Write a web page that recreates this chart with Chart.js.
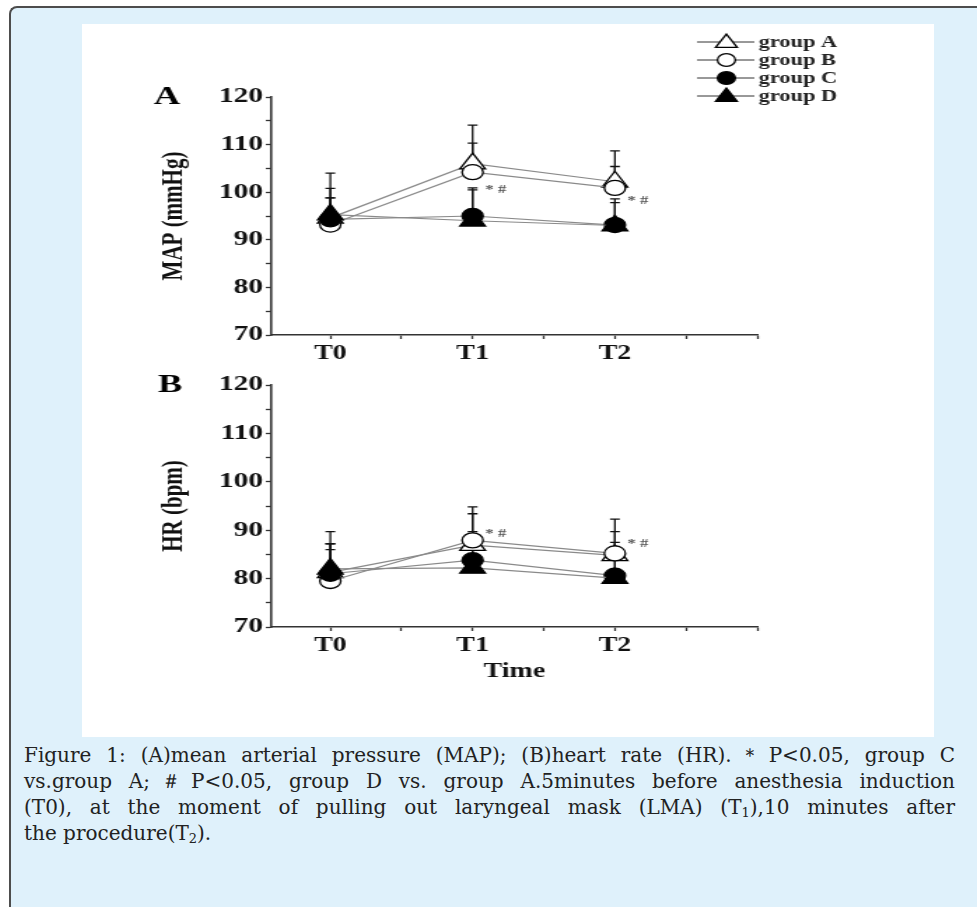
<!DOCTYPE html>
<html>
<head>
<meta charset="utf-8">
<script src="https://cdn.jsdelivr.net/npm/chart.js@4.4.0/dist/chart.umd.min.js"></script>
<style>
  body { margin: 0; width: 977px; height: 907px; overflow: hidden; position: relative; background: #fff; }
  #frame { position: absolute; left: 9px; top: 6px; width: 1000px; height: 1000px; border-left: 2px solid #4d4d4d; border-top: 2px solid #4d4d4d; border-top-left-radius: 8px; background: #dff1fb; }
  #panel { position: absolute; left: 82px; top: 24px; width: 852px; height: 713px; background: #fff; }
  .wrap { position: absolute; left: 150.6px; width: 500px; transform: scaleX(1.4); transform-origin: 0 0; }
  #wrapA { top: 30px; height: 335px; }
  #wrapB { top: 365px; height: 325px; }
  #caption { position: absolute; left: 24px; top: 742px; width: 931px; font-family: "DejaVu Serif", serif; font-size: 20px; line-height: 26px; color: #222; }
  #caption .j { text-align: justify; text-align-last: justify; text-justify: inter-word; white-space: nowrap; }
  #caption sub { font-size: 13px; vertical-align: -3px; line-height: 0; }
</style>
</head>
<body>
<div id="frame"></div>
<div id="panel"></div>
<div class="wrap" id="wrapA"><canvas id="chartA"></canvas></div>
<div class="wrap" id="wrapB"><canvas id="chartB"></canvas></div>
<div id="caption">
  <div class="j">Figure 1: (A)mean arterial pressure (MAP); (B)heart rate (HR).＊P&lt;0.05, group C</div>
  <div class="j">vs.group A;＃P&lt;0.05, group D vs. group A.5minutes before anesthesia induction</div>
  <div class="j">(T0), at the moment of pulling out laryngeal mask (LMA) (T<sub>1</sub>),10 minutes after</div>
  <div>the procedure(T<sub>2</sub>).</div>
</div>
<script>
// time points and groups
const timeLabels = ['T0', 'T1', 'T2'];
const groupNames = ['group A', 'group B', 'group C', 'group D'];

// MAP (mmHg), means and SD (upper bar only)
const mapA = [94.6, 106.0, 102.2];
const mapB = [93.2, 104.2, 100.9];
const mapC = [94.3, 95.0, 93.1];
const mapD = [95.3, 94.0, 93.0];
const mapSdA = [9.4, 8.1, 6.5];
const mapSdB = [7.6, 6.1, 4.5];
const mapSdC = [4.5, 5.9, 5.5];
const mapSdD = [3.5, 6.5, 4.8];

// HR (bpm)
const hrA = [81.3, 86.9, 84.8];
const hrB = [79.5, 87.9, 85.2];
const hrC = [81.0, 83.8, 80.6];
const hrD = [82.0, 82.2, 80.1];
const hrSdA = [8.4, 7.9, 7.5];
const hrSdB = [7.7, 5.5, 4.5];
const hrSdC = [6.2, 5.9, 6.9];
const hrSdD = [4.0, 6.4, 6.4];

// y ticks and significance marks (time index)
const yTicks = [70, 80, 90, 100, 110, 120];
const sigIndex = [1, 2];

const fontFam = '"Liberation Serif", "Times New Roman", serif';
Chart.defaults.font.family = fontFam;
Chart.defaults.color = '#111';

const styles = [
  { pointStyle: 'triangle', radius: 10.5, fill: '#fff' },
  { pointStyle: 'circle', radius: 7.5, fill: '#fff' },
  { pointStyle: 'circle', radius: 7.5, fill: '#000' },
  { pointStyle: 'triangle', radius: 10.5, fill: '#000' }
];

function makeSets(means, sds) {
  return means.map((vals, g) => ({
    label: groupNames[g],
    data: vals.map((v, i) => ({ x: i, y: v })),
    sd: sds[g],
    borderColor: '#8a8a8a',
    borderWidth: 1.2,
    pointStyle: styles[g].pointStyle,
    pointRadius: styles[g].radius,
    pointBackgroundColor: styles[g].fill,
    pointBorderColor: '#000',
    pointBorderWidth: 1.3,
    order: 3 - g
  }));
}

function drawMarker(ctx, st, x, y) {
  ctx.beginPath();
  if (st.pointStyle === 'circle') {
    ctx.arc(x, y, st.radius, 0, Math.PI * 2);
  } else {
    let rad = 0;
    ctx.moveTo(x + Math.sin(rad) * st.radius, y - Math.cos(rad) * st.radius);
    rad += Math.PI * 2 / 3;
    ctx.lineTo(x + Math.sin(rad) * st.radius, y - Math.cos(rad) * st.radius);
    rad += Math.PI * 2 / 3;
    ctx.lineTo(x + Math.sin(rad) * st.radius, y - Math.cos(rad) * st.radius);
    ctx.closePath();
  }
  ctx.fillStyle = st.fill;
  ctx.fill();
  ctx.lineWidth = 1.3;
  ctx.strokeStyle = '#000';
  ctx.stroke();
}

// error bars + "* #" marks
const errorBars = {
  id: 'errorBars',
  beforeDatasetsDraw(chart) {
    const { ctx, scales: { x, y } } = chart;
    ctx.save();
    ctx.strokeStyle = '#111';
    ctx.lineWidth = 1.3;
    chart.data.datasets.forEach(ds => {
      ds.data.forEach((pt, i) => {
        const px = x.getPixelForValue(pt.x);
        const py = y.getPixelForValue(pt.y);
        const top = y.getPixelForValue(pt.y + ds.sd[i]);
        ctx.beginPath();
        ctx.moveTo(px, py);
        ctx.lineTo(px, top);
        ctx.moveTo(px - 3.5, top);
        ctx.lineTo(px + 3.5, top);
        ctx.stroke();
      });
    });
    // significance marks beside group C bar top
    const dsC = chart.data.datasets[2];
    ctx.fillStyle = '#555';
    ctx.font = 'bold 12px ' + fontFam;
    ctx.textAlign = 'left';
    ctx.textBaseline = 'middle';
    sigIndex.forEach(i => {
      const px = x.getPixelForValue(i);
      const py = y.getPixelForValue(dsC.data[i].y + dsC.sd[i]);
      ctx.fillText('* #', px + 9, py + 2);
    });
    ctx.restore();
  }
};

// panel letter (A / B)
const panelLetter = {
  id: 'panelLetter',
  afterDraw(chart, args, opts) {
    const { ctx, chartArea } = chart;
    ctx.save();
    ctx.font = 'bold 26px ' + fontFam;
    ctx.fillStyle = '#000';
    ctx.textAlign = 'left';
    ctx.textBaseline = 'middle';
    ctx.fillText(opts.text, opts.x, chartArea.top);
    ctx.restore();
  }
};

// legend with line through the marker
const lineLegend = {
  id: 'lineLegend',
  afterDraw(chart, args, opts) {
    if (!opts.show) return;
    const { ctx } = chart;
    ctx.save();
    groupNames.forEach((name, g) => {
      const y = 12 + g * 18;
      ctx.beginPath();
      ctx.moveTo(390, y);
      ctx.lineTo(431, y);
      ctx.strokeStyle = '#333';
      ctx.lineWidth = 1;
      ctx.stroke();
      drawMarker(ctx, { pointStyle: styles[g].pointStyle, radius: styles[g].radius * 0.85, fill: styles[g].fill }, 411, y + (styles[g].pointStyle === 'triangle' ? 1 : 0));
      ctx.fillStyle = '#222';
      ctx.font = 'bold 16px ' + fontFam;
      ctx.textAlign = 'left';
      ctx.textBaseline = 'middle';
      ctx.fillText(name, 434, y + 1);
    });
    ctx.restore();
  }
};

function buildChart(id, sets, cfg) {
  return new Chart(document.getElementById(id), {
    type: 'line',
    data: { datasets: sets },
    plugins: [errorBars, panelLetter, lineLegend],
    options: {
      responsive: true,
      maintainAspectRatio: false,
      animation: false,
      layout: { padding: { top: cfg.padTop, right: 67, bottom: 0, left: 0 } },
      plugins: {
        legend: { display: false },
        tooltip: { enabled: false },
        panelLetter: { text: cfg.letter, x: cfg.letterX },
        lineLegend: { show: cfg.legend }
      },
      scales: {
        x: {
          type: 'linear',
          min: -0.414,
          max: 3.0,
          afterFit: s => { s.height = cfg.xHeight; },
          border: { color: '#333', width: 1.6 },
          grid: { drawOnChartArea: false, tickLength: 4, tickColor: '#333', tickWidth: 1.3 },
          ticks: {
            stepSize: 0.5,
            includeBounds: false,
            autoSkip: false,
            maxRotation: 0,
            padding: 3,
            color: '#111',
            font: { size: 20, weight: 'bold' },
            callback: v => {
              const r = Math.round(v);
              return Math.abs(v - r) < 1e-6 && timeLabels[r] ? timeLabels[r] : '';
            }
          },
          title: {
            display: cfg.xTitle,
            text: 'Time',
            color: '#111',
            font: { size: 20, weight: 'bold' },
            padding: { top: 0, bottom: 6 }
          }
        },
        y: {
          min: yTicks[0],
          max: yTicks[yTicks.length - 1],
          afterFit: s => { s.width = 86; },
          border: { color: '#333', width: 1.6 },
          grid: { drawOnChartArea: false, tickLength: 4, tickColor: '#333', tickWidth: 1.3 },
          ticks: {
            stepSize: 5,
            autoSkip: false,
            padding: 2,
            color: '#111',
            font: { size: 21, weight: 'bold' },
            callback: v => (yTicks.includes(v) ? String(v) : '')
          },
          title: {
            display: true,
            text: cfg.yTitle,
            color: '#111',
            font: { size: 21, weight: 'bold' },
            padding: { top: 4, bottom: 0 }
          }
        }
      }
    }
  });
}

buildChart('chartA',
  makeSets([mapA, mapB, mapC, mapD], [mapSdA, mapSdB, mapSdC, mapSdD]),
  { padTop: 67, xHeight: 30, xTitle: false, yTitle: 'MAP (mmHg)', letter: 'A', letterX: 2, legend: true });

buildChart('chartB',
  makeSets([hrA, hrB, hrC, hrD], [hrSdA, hrSdB, hrSdC, hrSdD]),
  { padTop: 20, xHeight: 63, xTitle: true, yTitle: 'HR (bpm)', letter: 'B', letterX: 5, legend: false });
</script>
</body>
</html>
